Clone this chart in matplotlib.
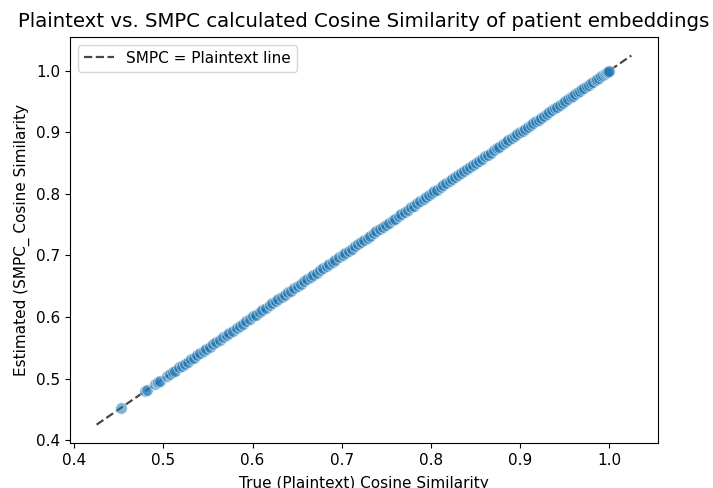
import matplotlib
matplotlib.use("Agg")
import matplotlib.pyplot as plt
import seaborn as sns

# plaintext cosine similarity per patient pair
true_sim = [
    0.452, 0.479, 0.481, 0.491, 0.494, 0.496,
    0.504, 0.507, 0.511, 0.513, 0.518, 0.521, 0.524, 0.527, 0.531, 0.534,
    0.538, 0.541, 0.545, 0.548, 0.552, 0.556, 0.559, 0.563, 0.567, 0.571,
    0.574, 0.578, 0.582, 0.586, 0.589, 0.593, 0.597,
    0.601, 0.604, 0.608, 0.611, 0.615, 0.619, 0.622, 0.626, 0.629, 0.633,
    0.636, 0.640, 0.643, 0.647, 0.651, 0.654, 0.658, 0.661, 0.665, 0.668,
    0.672, 0.676, 0.679, 0.683, 0.686, 0.690, 0.693, 0.697,
    0.701, 0.704, 0.708, 0.711, 0.715, 0.718, 0.722, 0.725, 0.729, 0.732,
    0.736, 0.739, 0.743, 0.746, 0.750, 0.753, 0.757, 0.760, 0.764, 0.767,
    0.771, 0.774, 0.778, 0.781, 0.785, 0.788, 0.792, 0.795, 0.798,
    0.801, 0.804, 0.807, 0.811, 0.814, 0.817, 0.821, 0.824, 0.827, 0.831,
    0.834, 0.837, 0.841, 0.844, 0.847, 0.851, 0.854, 0.857, 0.861, 0.864,
    0.867, 0.871, 0.874, 0.877, 0.881, 0.884, 0.887, 0.891, 0.894, 0.897,
    0.900, 0.903, 0.906, 0.909, 0.912, 0.915, 0.918, 0.921, 0.924, 0.927,
    0.930, 0.933, 0.936, 0.939, 0.942, 0.945, 0.948, 0.951, 0.954, 0.957,
    0.960, 0.962, 0.965, 0.967, 0.970, 0.972, 0.975, 0.977, 0.980, 0.982,
    0.985, 0.987, 0.989, 0.991, 0.993, 0.995, 0.997, 0.998, 0.999, 1.000,
]
# SMPC estimates match the plaintext values
smpc_sim = list(true_sim)

line_ends = [0.425, 1.025]

fig = plt.figure(figsize=(7.13, 4.88), dpi=100)
ax = fig.add_axes([0.098, 0.092, 0.825, 0.832])

ax.plot(line_ends, line_ends, color="#333333", ls="--", lw=1.6, alpha=0.9,
        label="SMPC = Plaintext line", zorder=1)
sns.scatterplot(x=true_sim, y=smpc_sim, alpha=0.55, s=70, ax=ax, zorder=2)

ax.set_title("Plaintext vs. SMPC calculated Cosine Similarity of patient embeddings",
             fontsize=14.2, pad=7)
ax.set_xlabel("True (Plaintext) Cosine Similarity", fontsize=11, labelpad=6)
ax.set_ylabel("Estimated (SMPC_ Cosine Similarity", fontsize=11)
ax.tick_params(labelsize=11)
ax.legend(loc="upper left", fontsize=11)

fig.savefig("out.png", dpi=100)
